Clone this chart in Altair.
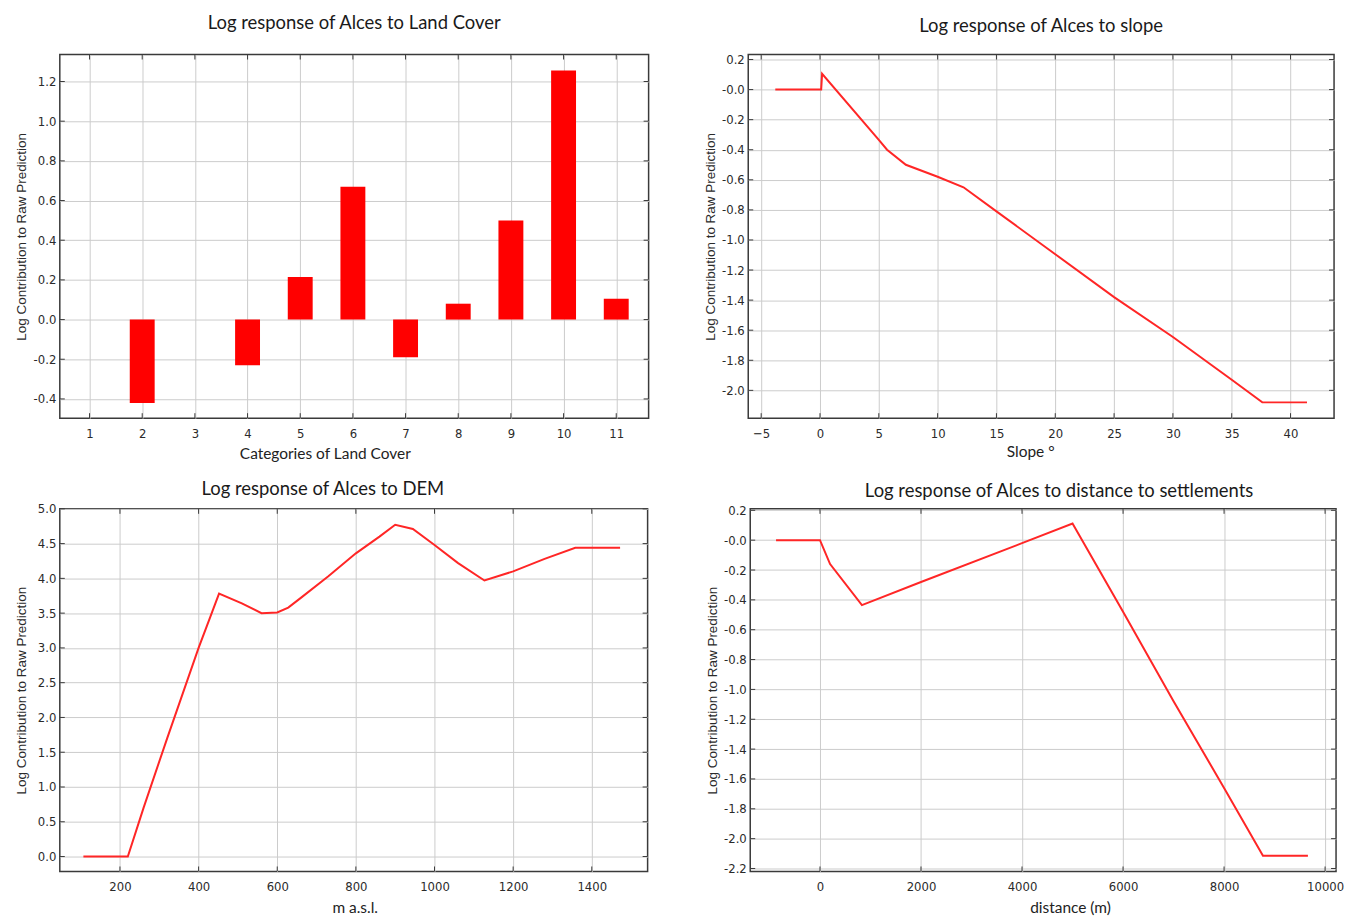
import altair as alt
import pandas as pd

# ---------------- data ----------------
lc_cat = [1, 2, 3, 4, 5, 6, 7, 8, 9, 10, 11]
lc_val = [0.0, -0.42, 0.0, -0.23, 0.215, 0.67, -0.19, 0.08, 0.50, 1.255, 0.105]

slope_x = [-3.8, 0.1, 0.18, 5.0, 5.7, 7.3, 10.0, 12.2, 15.0, 20.0, 25.0, 30.0, 35.0, 37.6, 41.4]
slope_y = [0.0, 0.0, 0.105, -0.334, -0.40, -0.50, -0.58, -0.65, -0.81, -1.095, -1.38, -1.645, -1.93, -2.08, -2.08]

dem_x = [107, 220, 260, 320, 400, 430, 452, 510, 560, 600, 628, 660, 730, 800, 860, 900, 945, 1000, 1060, 1127, 1200, 1280, 1358, 1472]
dem_y = [0.0, 0.0, 0.70, 1.70, 3.00, 3.45, 3.78, 3.64, 3.50, 3.51, 3.58, 3.72, 4.03, 4.36, 4.60, 4.77, 4.71, 4.48, 4.22, 3.97, 4.10, 4.28, 4.44, 4.44]

dist_x = [-870, 0, 200, 830, 2000, 4000, 5000, 6000, 7000, 8000, 8770, 9660]
dist_y = [0.0, 0.0, -0.16, -0.435, -0.28, -0.02, 0.112, -0.48, -1.08, -1.66, -2.115, -2.115]

lc_xticks = list(range(1, 12))
lc_yticks = [-0.4, -0.2, 0.0, 0.2, 0.4, 0.6, 0.8, 1.0, 1.2]
slope_xticks = [-5, 0, 5, 10, 15, 20, 25, 30, 35, 40]
slope_yticks = [0.2, 0.0, -0.2, -0.4, -0.6, -0.8, -1.0, -1.2, -1.4, -1.6, -1.8, -2.0]
dem_xticks = [200, 400, 600, 800, 1000, 1200, 1400]
dem_yticks = [0.0, 0.5, 1.0, 1.5, 2.0, 2.5, 3.0, 3.5, 4.0, 4.5, 5.0]
dist_xticks = [0, 2000, 4000, 6000, 8000, 10000]
dist_yticks = [0.2, 0.0, -0.2, -0.4, -0.6, -0.8, -1.0, -1.2, -1.4, -1.6, -1.8, -2.0, -2.2]

# ---------------- styling ----------------
NARROW = "Liberation Sans Narrow, DejaVu Sans Condensed, Liberation Sans, Arial"
TITLE_FONT = "Lato, Open Sans, sans-serif"
YT_FONT = "Liberation Sans, Arial, sans-serif"
RED = "#ff2626"
FRAME = "#3a3a3a"

EXPR_PLAIN = "(datum.value < 0 ? '-' : '') + format(abs(datum.value), '.1f')"
EXPR_NEGZERO = "(datum.value <= 0 ? '-' : '') + format(abs(datum.value), '.1f')"


def yaxis(values, expr, ext=24, tpad=7):
    return alt.Axis(values=values, labelExpr=expr, title="Log Contribution to Raw Prediction",
                    minExtent=ext, maxExtent=ext, titlePadding=tpad, labelPadding=4)


def xaxis(values, title, tpad, tx):
    return alt.Axis(values=values, format="d", title=title, labelPadding=9,
                    minExtent=21, maxExtent=21, titlePadding=tpad, titleX=tx)


def ticks(xvals, yvals, xs, ys, xa, ya, w, h, L=5):
    xd = pd.DataFrame({"v": xvals})
    yd = pd.DataFrame({"v": yvals})
    sty = dict(color=FRAME, strokeWidth=1)
    out = []
    for a, b in [(0, L), (w - L, w)]:
        out.append(alt.Chart(yd).mark_rule(**sty).encode(
            y=alt.Y("v:Q", scale=ys, axis=ya), x=alt.value(a), x2=alt.value(b)))
    for a, b in [(h - L, h), (0, L)]:
        out.append(alt.Chart(xd).mark_rule(**sty).encode(
            x=alt.X("v:Q", scale=xs, axis=xa), y=alt.value(a), y2=alt.value(b)))
    return out


def title(text, offset, dx=0):
    return alt.TitleParams(text=text, font=TITLE_FONT, fontSize=18.5, fontWeight="normal",
                           color="#1a1a1a", offset=offset, anchor="middle", frame="group", dx=dx)


# ---------------- panel 1 : land cover ----------------
W1, H1 = 591, 365
xs1 = alt.Scale(domain=[0.53, 11.52], nice=False, zero=False)
ys1 = alt.Scale(domain=[-0.497, 1.336], nice=False, zero=False)
xa1 = xaxis(lc_xticks, "Categories of Land Cover", 7, 266)
ya1 = yaxis(lc_yticks, EXPR_PLAIN)
df1 = pd.DataFrame({"cat": lc_cat, "val": lc_val})
bars = alt.Chart(df1).mark_bar(color="#ff0000", size=25).encode(
    x=alt.X("cat:Q", scale=xs1, axis=xa1),
    y=alt.Y("val:Q", scale=ys1, axis=ya1),
    y2=alt.datum(0),
)
p1 = alt.layer(bars, *ticks(lc_xticks, lc_yticks, xs1, ys1, xa1, ya1, W1, H1)).properties(
    width=W1, height=H1, title=title("Log response of Alces to Land Cover", 22))

# ---------------- panel 2 : slope ----------------
W2, H2 = 588, 365
xs2 = alt.Scale(domain=[-6.1, 43.7], nice=False, zero=False)
ys2 = alt.Scale(domain=[-2.185, 0.233], nice=False, zero=False)
xa2 = xaxis(slope_xticks, "Slope °", 5, 283)
ya2 = yaxis(slope_yticks, EXPR_NEGZERO)
df2 = pd.DataFrame({"x": slope_x, "y": slope_y})
line2 = alt.Chart(df2).mark_line(color=RED, strokeWidth=2).encode(
    x=alt.X("x:Q", scale=xs2, axis=xa2),
    y=alt.Y("y:Q", scale=ys2, axis=ya2),
    order=alt.Order("x:Q"),
)
p2 = alt.layer(line2, *ticks(slope_xticks, slope_yticks, xs2, ys2, xa2, ya2, W2, H2)).properties(
    width=W2, height=H2, title=title("Log response of Alces to slope", 18))

# ---------------- panel 3 : DEM ----------------
W3, H3 = 590, 364
xs3 = alt.Scale(domain=[47, 1542], nice=False, zero=False)
ys3 = alt.Scale(domain=[-0.215, 5.0], nice=False, zero=False)
xa3 = xaxis(dem_xticks, "m a.s.l.", 8, 296)
ya3 = yaxis(dem_yticks, EXPR_PLAIN)
df3 = pd.DataFrame({"x": dem_x, "y": dem_y})
line3 = alt.Chart(df3).mark_line(color=RED, strokeWidth=2).encode(
    x=alt.X("x:Q", scale=xs3, axis=xa3),
    y=alt.Y("y:Q", scale=ys3, axis=ya3),
    order=alt.Order("x:Q"),
)
p3 = alt.layer(line3, *ticks(dem_xticks, dem_yticks, xs3, ys3, xa3, ya3, W3, H3)).properties(
    width=W3, height=H3, title=title("Log response of Alces to DEM", 4, -31))

# ---------------- panel 4 : distance to settlements ----------------
W4, H4 = 588, 364
xs4 = alt.Scale(domain=[-1381, 10217], nice=False, zero=False)
ys4 = alt.Scale(domain=[-2.22, 0.21], nice=False, zero=False)
xa4 = xaxis(dist_xticks, "distance (m)", 8, 321)
ya4 = yaxis(dist_yticks, EXPR_NEGZERO)
df4 = pd.DataFrame({"x": dist_x, "y": dist_y})
line4 = alt.Chart(df4).mark_line(color=RED, strokeWidth=2).encode(
    x=alt.X("x:Q", scale=xs4, axis=xa4),
    y=alt.Y("y:Q", scale=ys4, axis=ya4),
    order=alt.Order("x:Q"),
)
p4 = alt.layer(line4, *ticks(dist_xticks, dist_yticks, xs4, ys4, xa4, ya4, W4, H4)).properties(
    width=W4, height=H4, title=title("Log response of Alces to distance to settlements", 4, 16))

row1 = alt.hconcat(p1, p2, spacing=52)
row2 = alt.hconcat(p3, p4, spacing=55)

chart = alt.vconcat(row1, row2, spacing=16).properties(
    padding={"left": 6, "top": 3, "right": 4, "bottom": 0},
    background="white",
).configure_view(
    stroke=FRAME, strokeWidth=1.5
).configure_axis(
    grid=True, gridColor="#cccccc", gridWidth=1, ticks=False, domain=False,
    labelFont=NARROW, labelFontSize=13, labelColor="#2a2a2a",
    titleFontWeight="normal",
).configure_axisY(
    titleFont=YT_FONT, titleFontSize=13.5, titleColor="#2a2a2a",
).configure_axisX(
    titleFont=TITLE_FONT, titleFontSize=15.5, titleColor="#222222",
)

chart.save("out.html", embed_options={"renderer": "svg", "actions": False})
